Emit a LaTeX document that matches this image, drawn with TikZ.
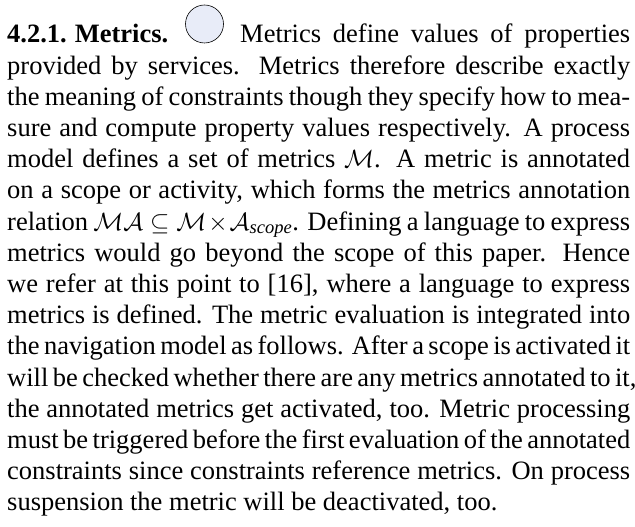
\documentclass[tikz,border=0pt]{standalone}
\usepackage{amsmath}
\usepackage{amssymb}
\usepackage{fontspec}
\setmainfont{Liberation Serif}
\definecolor{circfill}{RGB}{232,236,248}
\newcommand{\fullline}[1]{\hbox to 623pt{#1}}

\begin{document}
\begin{tikzpicture}[x=1pt,y=1pt,
    txt/.style={anchor=base west,inner sep=0pt,font=\fontsize{26.5}{31.2}\selectfont}]
                \useasboundingbox (0,0) rectangle (635,527);
                \node[txt] (head) at (7,484) {\hbox to 161pt{\bfseries 4.2.1.\hfil Metrics.}};
                \node[draw,circle,fill=circfill,minimum size=38pt,inner sep=0pt,line width=0.6pt] (icon) at (204.5,503) {};
                \node[txt] (l1) at (240,484) {\hbox to 390pt{Metrics define values of properties}};
                \node[txt] (l2) at (7,452.8) {\fullline{provided by services. Metrics therefore describe exactly}};
                \node[txt] (l3) at (7,421.6) {\fullline{the meaning of constraints though they specify how to mea-}};
                \node[txt] (l4) at (7,390.4) {\fullline{sure and compute property values respectively. A process}};
                \node[txt] (l5) at (7,359.2) {\fullline{model defines a set of metrics $\mathcal{M}$. A metric is annotated}};
                \node[txt] (l6) at (7,328.0) {\fullline{on a scope or activity, which forms the metrics annotation}};
                \node[txt] (l7) at (7,296.8) {\fullline{relation $\mathcal{MA}\subseteq\mathcal{M}\times\mathcal{A}_{\text{\itshape scope}}$. Defining a language to express}};
                \node[txt] (l8) at (7,265.6) {\fullline{metrics would go beyond the scope of this paper. Hence}};
                \node[txt] (l9) at (7,234.4) {\fullline{we refer at this point to [16], where a language to express}};
                \node[txt] (l10) at (7,203.2) {\fullline{metrics is defined. The metric evaluation is integrated into}};
                \node[txt] (l11) at (7,172.0) {\fullline{the navigation model as follows. After a scope is activated it}};
                \node[txt] (l12) at (7,140.8) {\fullline{will be checked whether there are any metrics annotated to it,}};
                \node[txt] (l13) at (7,109.6) {\fullline{the annotated metrics get activated, too. Metric processing}};
                \node[txt] (l14) at (7,78.4) {\fullline{must be triggered before the first evaluation of the annotated}};
                \node[txt] (l15) at (7,47.2) {\fullline{constraints since constraints reference metrics. On process}};
                \node[txt] (l16) at (7,16.0) {suspension the metric will be deactivated, too.};
            \end{tikzpicture}
\end{document}
